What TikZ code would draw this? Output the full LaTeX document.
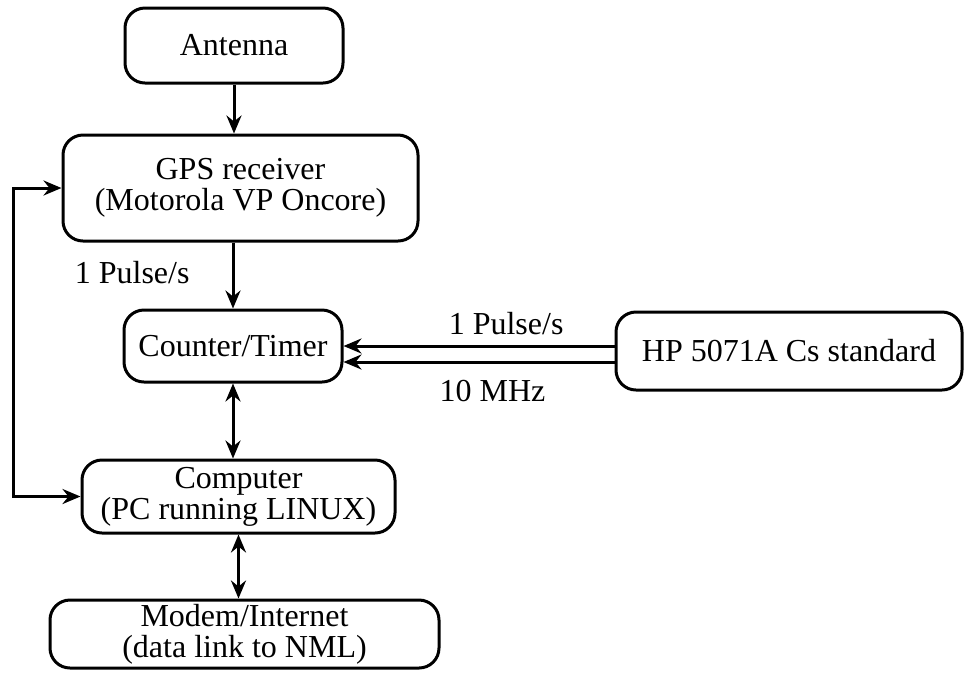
\documentclass[tikz,border=0pt]{standalone}
\usepackage{fontspec}
\setmainfont{Liberation Serif}
\usetikzlibrary{arrows.meta,positioning}

\begin{document}
\begin{tikzpicture}[x=0.5pt,y=-0.5pt,
  unit/.style={draw,line width=1.5pt,rounded corners=10pt,align=center,inner sep=0pt,font=\fontsize{16pt}{15.5pt}\selectfont},
  arr/.style={-{Stealth[length=9pt,width=7.5pt,inset=3pt]},line width=1.5pt},
  darr/.style={{Stealth[length=9pt,width=7.5pt,inset=3pt]}-{Stealth[length=9pt,width=7.5pt,inset=3pt]},line width=1.5pt},
  lbl/.style={font=\fontsize{16pt}{15.5pt}\selectfont,inner sep=1pt}]
  \useasboundingbox (0,0) rectangle (964,677);
  \node[unit,minimum width=109pt,minimum height=37.5pt] (ant) at (234,45.5) {Antenna};
  \node[unit,minimum width=177.5pt,minimum height=53pt] (gps) at (240.5,188) {GPS receiver\\(Motorola VP Oncore)};
  \node[unit,minimum width=109pt,minimum height=36pt] (ctr) at (233,346) {Counter/Timer};
  \node[unit,minimum width=173pt,minimum height=39pt] (cs) at (789,351) {HP 5071A Cs standard};
  \node[unit,minimum width=156.5pt,minimum height=36.5pt] (pc) at (238.5,496.5) {Computer\\(PC running LINUX)};
  \node[unit,minimum width=194.5pt,minimum height=34pt] (net) at (244.5,634) {Modem/Internet\\(data link to NML)};
  \coordinate (loop) at (13,340);
  \draw[arr] (ant.south) -- (ant.south |- gps.north);
  \draw[arr] (gps.south -| ctr.north) -- (ctr.north) node[lbl,pos=0.45,left=20pt] {1 Pulse/s};
  \draw[arr] ([yshift=2.5pt]cs.west) -- ([yshift=2.5pt]cs.west -| ctr.east) node[lbl,pos=0.4,above=4pt] {1 Pulse/s};
  \draw[arr] ([yshift=-5.5pt]cs.west) -- ([yshift=-5.5pt]cs.west -| ctr.east) node[lbl,pos=0.45,below=7.5pt] {10 MHz};
  \draw[darr] (ctr.south) -- (ctr.south |- pc.north);
  \draw[darr] (pc.south) -- (pc.south |- net.north);
  \draw[darr] (gps.west) -- (gps.west -| loop) |- (pc.west);
\end{tikzpicture}
\end{document}
